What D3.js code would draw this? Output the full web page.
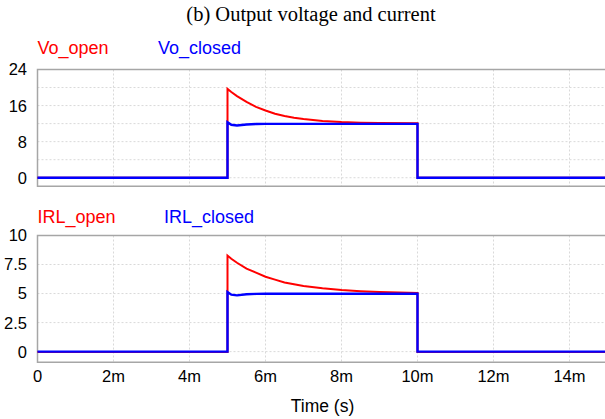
<!DOCTYPE html>
<html>
<head>
<meta charset="utf-8">
<script src="https://cdn.jsdelivr.net/npm/d3@7"></script>
<style>
  body { margin: 0; background: #fff; }
  svg { display: block; }
  text { font-family: "Liberation Sans", Arial, sans-serif; }
  .title { font-family: "Liberation Serif", "Times New Roman", serif; }
</style>
</head>
<body>
<svg id="chart" width="605" height="419"></svg>
<script>
// Output voltage and current -- open vs closed loop

// time in ms; the steps at 5m and 10m repeat the time
var TIME = [0, 5, 5, 5.1, 5.25, 5.5, 5.75, 6, 6.25, 6.5, 6.75, 7, 7.5, 8, 8.5, 9, 10, 10, 15];

var VO_OPEN   = [0, 0, 19.7, 19.0, 18.1, 16.8, 15.7, 14.9, 14.2, 13.7, 13.3, 13.0, 12.6, 12.35, 12.2, 12.12, 12.08, 0, 0];
var VO_CLOSED = [0, 0, 12.3, 11.75, 11.6, 11.8, 11.9, 11.95, 11.95, 11.95, 11.95, 11.95, 11.95, 11.95, 11.95, 11.95, 11.95, 0, 0];

var IRL_OPEN   = [-0.03, -0.03, 8.27, 8.0, 7.65, 7.15, 6.8, 6.45, 6.2, 5.95, 5.8, 5.65, 5.45, 5.3, 5.2, 5.13, 5.06, -0.03, -0.03];
var IRL_CLOSED = [0, 0, 5.13, 4.9, 4.84, 4.94, 4.97, 4.99, 4.99, 4.99, 4.99, 4.99, 4.99, 4.99, 4.99, 4.99, 4.99, 0, 0];

var X_TICKS = [0, 2, 4, 6, 8, 10, 12, 14];
var X_LABELS = ["0", "2m", "4m", "6m", "8m", "10m", "12m", "14m"];
var X_GRID = [2, 4, 6, 8, 10, 12, 14];

var VO_TICKS = [0, 8, 16, 24];
var VO_GRID = [0, 4, 8, 12, 16, 20];
var IRL_TICKS = [0, 2.5, 5, 7.5, 10];
var IRL_GRID = [0, 2.5, 5, 7.5];

var RED = "#ff0000";
var BLUE = "#0000ff";

var svg = d3.select("#chart");

var x = d3.scaleLinear().domain([0, 15]).range([37.5, 607.5]);

///////////////////////////////////////////////////////////////////////////////
// title

svg.append("text")
  .attr("class", "title")
  .attr("x", 311)
  .attr("y", 21)
  .attr("text-anchor", "middle")
  .style("font-size", "20.5px")
  .attr("fill", "#000")
  .text("(b) Output voltage and current");

///////////////////////////////////////////////////////////////////////////////
// one panel

function drawPanel(opts)
{
  var y = d3.scaleLinear().domain(opts.domain).range(opts.range);
  var g = svg.append("g");

  var top = y.range()[1], bottom = y.range()[0];

  // dotted grid
  g.selectAll(".hgrid").data(opts.grid).enter().append("line")
    .attr("x1", x(0)).attr("x2", 605)
    .attr("y1", function (d) { return y(d); })
    .attr("y2", function (d) { return y(d); })
    .attr("stroke", "#d9d9d9")
    .attr("stroke-dasharray", "2,2");

  g.selectAll(".vgrid").data(X_GRID).enter().append("line")
    .attr("x1", function (d) { return x(d); })
    .attr("x2", function (d) { return x(d); })
    .attr("y1", top).attr("y2", bottom)
    .attr("stroke", "#d9d9d9")
    .attr("stroke-dasharray", "2,2");

  // frame: top, left, bottom
  g.append("path")
    .attr("d", "M605," + top + "H" + x(0) + "V" + bottom + "H605")
    .attr("fill", "none")
    .attr("stroke", "#a6a6a6")
    .attr("stroke-width", 1.5);

  // y tick labels
  g.selectAll(".ylab").data(opts.ticks).enter().append("text")
    .attr("x", 27)
    .attr("y", function (d) { return y(d); })
    .attr("dy", "0.36em")
    .attr("text-anchor", "end")
    .style("font-size", "16.5px")
    .attr("fill", "#000")
    .text(function (d) { return d; });

  // traces, red underneath blue
  var line = d3.line()
    .x(function (d, i) { return x(TIME[i]); })
    .y(function (d) { return y(d); });

  g.append("path")
    .attr("d", line(opts.open))
    .attr("fill", "none")
    .attr("stroke", RED)
    .attr("stroke-width", 2);

  g.append("path")
    .attr("d", line(opts.closed))
    .attr("fill", "none")
    .attr("stroke", BLUE)
    .attr("stroke-width", 2.4);

  // legend
  g.append("text")
    .attr("x", 37.5).attr("y", opts.legendY)
    .style("font-size", "18px")
    .attr("fill", RED)
    .text(opts.names[0]);

  g.append("text")
    .attr("x", opts.legend2X).attr("y", opts.legendY)
    .style("font-size", "18px")
    .attr("fill", BLUE)
    .text(opts.names[1]);

  return y;
}

drawPanel({
  domain: [-1.9, 24], range: [186.3, 69.5],
  ticks: VO_TICKS, grid: VO_GRID,
  open: VO_OPEN, closed: VO_CLOSED,
  names: ["Vo_open", "Vo_closed"],
  legendY: 54, legend2X: 158
});

drawPanel({
  domain: [-0.92, 10], range: [362.3, 235.5],
  ticks: IRL_TICKS, grid: IRL_GRID,
  open: IRL_OPEN, closed: IRL_CLOSED,
  names: ["IRL_open", "IRL_closed"],
  legendY: 222.5, legend2X: 164
});

///////////////////////////////////////////////////////////////////////////////
// x axis labels

svg.selectAll(".xlab").data(X_TICKS).enter().append("text")
  .attr("x", function (d) { return x(d); })
  .attr("y", 382)
  .attr("text-anchor", "middle")
  .style("font-size", "16.5px")
  .attr("fill", "#000")
  .text(function (d, i) { return X_LABELS[i]; });

svg.append("text")
  .attr("x", 322.5)
  .attr("y", 412)
  .attr("text-anchor", "middle")
  .style("font-size", "17.5px")
  .attr("fill", "#000")
  .text("Time (s)");
</script>
</body>
</html>
